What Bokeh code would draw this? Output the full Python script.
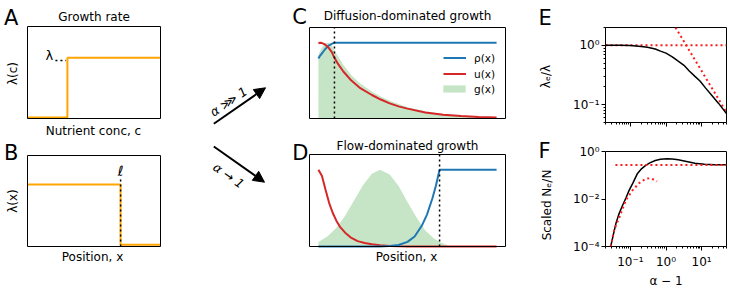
import math
from bokeh.plotting import figure
from bokeh.layouts import row, column
from bokeh.models import (Label, Arrow, NormalHead, Range1d, FixedTicker,
                          CustomJSTickFormatter, Legend, LegendItem, BoxAnnotation)
from bokeh.embed import file_html
from bokeh.resources import INLINE

FONT = "DejaVu Sans"
ORANGE = "#ffa500"
BLUE = "#1f77b4"
RED = "#d62728"
GREEN = "#2ca02c"
DOT_RED = "#ff1a1a"

# ---------------- data ----------------
# A: growth rate vs nutrient concentration (step)
nutrient_c = [0.0, 0.30, 0.30, 1.0]
growth_c = [0.01, 0.01, 0.66, 0.66]
a_xlim = (0.0, 1.0)
a_ylim = (0.0, 1.0)

# B: growth rate vs position (step down at ell)
position_b = [0.0, 0.70, 0.70, 1.0]
growth_b = [0.68, 0.68, 0.02, 0.02]
ell_b = 0.70
ell_top_b = 0.74

# C: diffusion-dominated growth
c_x = [0.0, 0.01, 0.02, 0.03, 0.04, 0.05, 0.06, 0.075, 0.09, 0.11, 0.14, 0.185,
       0.235, 0.30, 0.35, 0.40, 0.45, 0.50, 0.60, 0.70, 0.80, 0.90, 1.0]
c_rho = [0.79, 0.83, 0.86, 0.89, 0.92, 0.945, 0.965, 0.985, 1.0, 1.0, 1.0, 1.0,
         1.0, 1.0, 1.0, 1.0, 1.0, 1.0, 1.0, 1.0, 1.0, 1.0, 1.0]
c_u = [0.99, 1.0, 0.995, 0.985, 0.97, 0.95, 0.925, 0.875, 0.80, 0.72, 0.62, 0.50,
       0.40, 0.31, 0.25, 0.20, 0.16, 0.13, 0.08, 0.05, 0.033, 0.02, 0.012]
c_g = [0.84, 0.89, 0.94, 0.97, 0.99, 1.0, 1.0, 0.96, 0.90, 0.82, 0.71, 0.57,
       0.46, 0.355, 0.29, 0.235, 0.19, 0.15, 0.095, 0.06, 0.038, 0.024, 0.014]
ell_c = 0.09
cd_xlim = (-0.05, 1.05)
cd_ylim = (0.0, 1.2)

# D: flow-dominated growth
d_x = [0.0, 0.02, 0.04, 0.06, 0.08, 0.10, 0.12, 0.15, 0.18, 0.22, 0.26, 0.30,
       0.345, 0.40, 0.45, 0.50, 0.54, 0.58, 0.61, 0.64, 0.66, 0.67, 0.68, 0.70, 1.0]
d_rho = [0, 0, 0, 0, 0, 0, 0, 0, 0, 0, 0, 0,
         0.001, 0.005, 0.02, 0.06, 0.13, 0.27, 0.42, 0.63, 0.80, 0.90, 1.0, 1.0, 1.0]
d_u = [1.0, 0.92, 0.74, 0.57, 0.44, 0.34, 0.26, 0.18, 0.12, 0.07, 0.045, 0.028,
       0.015, 0.007, 0.003, 0.001, 0, 0, 0, 0, 0, 0, 0, 0, 0]
d_gx = [0.0, 0.05, 0.10, 0.15, 0.20, 0.25, 0.30, 0.345, 0.40, 0.45, 0.50, 0.55,
        0.60, 0.65, 0.69, 0.72, 0.74]
d_g = [0.06, 0.13, 0.24, 0.40, 0.60, 0.80, 0.95, 1.0, 0.94, 0.79, 0.58, 0.38,
       0.21, 0.10, 0.05, 0.02, 0.0]
ell_d = 0.68

# E: effective growth rate vs alpha - 1
e_x = [0.02, 0.05, 0.1, 0.2, 0.3, 0.5, 0.7, 1.0, 1.5, 2.2, 3.2, 4.5, 6.5, 9.0,
       13, 20, 30, 50]
e_y = [1.0, 1.0, 0.99, 0.96, 0.93, 0.87, 0.80, 0.74, 0.64, 0.54, 0.46, 0.37,
       0.30, 0.25, 0.19, 0.14, 0.105, 0.071]
e_flat_x = [0.02, 50]
e_flat_y = [1.0, 1.0]
e_asym_x = [1.85, 50]
e_asym_y = [2.0, 0.074]
ef_xlim = (0.02, 50)
e_ylim = (0.05, 2)
ef_xticks = [0.1, 1, 10]
ef_xminor = [0.02, 0.03, 0.04, 0.05, 0.06, 0.07, 0.08, 0.09,
             0.2, 0.3, 0.4, 0.5, 0.6, 0.7, 0.8, 0.9,
             2, 3, 4, 5, 6, 7, 8, 9, 20, 30, 40, 50]
e_yticks = [0.1, 1]
e_yminor = [0.05, 0.06, 0.07, 0.08, 0.09, 0.2, 0.3, 0.4, 0.5, 0.6, 0.7, 0.8, 0.9, 2]

# F: scaled effective population size vs alpha - 1
f_x = [0.028, 0.033, 0.039, 0.047, 0.06, 0.075, 0.092, 0.12, 0.156, 0.2, 0.27,
       0.35, 0.5, 0.7, 1.07, 1.5, 2.2, 3.5, 6.5, 12, 23, 50]
f_y = [1e-4, 3e-4, 9e-4, 2.2e-3, 5.3e-3, 1.1e-2, 2.3e-2, 5.0e-2, 0.115, 0.18,
       0.26, 0.33, 0.42, 0.47, 0.49, 0.48, 0.45, 0.39, 0.32, 0.29, 0.28, 0.275]
f_small_x = [0.028, 0.035, 0.049, 0.074, 0.114, 0.174, 0.27, 0.37, 0.56]
f_small_y = [1e-4, 5e-4, 1.7e-3, 8.7e-3, 0.023, 0.046, 0.071, 0.075, 0.056]
f_flat_x = [0.038, 50]
f_flat_y = [0.27, 0.27]
f_ylim = (1e-4, 1)
f_yticks = [1e-4, 1e-2, 1.0]

SUP_CODE = """
const sup = {'-': '\u207b', '0': '\u2070', '1': '\u00b9', '2': '\u00b2', '3': '\u00b3',
             '4': '\u2074', '5': '\u2075', '6': '\u2076', '7': '\u2077', '8': '\u2078', '9': '\u2079'};
const e = Math.round(Math.log10(tick));
return '10' + String(e).split('').map(c => sup[c]).join('');
"""


def frame_fig(width, height, frame, xlim, ylim, box=True):
    """Figure whose plotting frame is the whole canvas; the panel box is drawn
    at the axis limits (xlim, ylim), which land on the pixel box `frame`."""
    left, top, right, bottom = frame
    sx = (xlim[1] - xlim[0]) / (right - left)
    sy = (ylim[1] - ylim[0]) / (bottom - top)
    xr = Range1d(xlim[0] - left * sx, xlim[1] + (width - right) * sx)
    yr = Range1d(ylim[0] - (height - bottom) * sy, ylim[1] + top * sy)
    p = figure(width=width, height=height, x_range=xr, y_range=yr, title=None,
               output_backend="svg", toolbar_location=None,
               x_axis_location=None, y_axis_location=None,
               min_border=0, min_border_left=0, min_border_right=0,
               min_border_top=0, min_border_bottom=0)
    p.xgrid.visible = False
    p.ygrid.visible = False
    p.outline_line_color = None
    p.background_fill_color = "white"
    p.border_fill_color = "white"
    if box:
        p.add_layout(BoxAnnotation(left=xlim[0], right=xlim[1], bottom=ylim[0],
                                   top=ylim[1], fill_color=None, fill_alpha=0,
                                   line_color="black", line_width=1, line_alpha=1))
    return p


def log_fig(width, height, left, right, top, bottom, xlim, ylim):
    p = figure(width=width, height=height, x_range=Range1d(*xlim),
               y_range=Range1d(*ylim), title=None, output_backend="svg",
               toolbar_location=None, x_axis_type="log", y_axis_type="log",
               min_border_left=left, min_border_right=right,
               min_border_top=top, min_border_bottom=bottom)
    p.xgrid.visible = False
    p.ygrid.visible = False
    p.outline_line_color = "black"
    p.outline_line_width = 1
    p.outline_line_alpha = 1
    for ax in (p.xaxis[0], p.yaxis[0]):
        ax.axis_line_color = None
        ax.major_tick_line_color = "black"
        ax.minor_tick_line_color = "black"
        ax.major_tick_out = 4
        ax.major_tick_in = 0
        ax.minor_tick_out = 2
        ax.minor_tick_in = 0
        ax.major_label_text_font = FONT
        ax.major_label_text_font_size = "12px"
        ax.major_label_text_color = "black"
        ax.formatter = CustomJSTickFormatter(code=SUP_CODE)
        ax.axis_label_text_font = FONT
        ax.axis_label_text_font_size = "12px"
        ax.axis_label_text_font_style = "normal"
        ax.axis_label_text_color = "black"
    p.yaxis[0].major_label_standoff = 2
    return p


def txt(p, s, x, y, size="12px", align="left", baseline="alphabetic",
        units="screen", angle=0.0, style="normal"):
    p.add_layout(Label(x=x, y=y, x_units=units, y_units=units, text=s,
                       text_font=FONT, text_font_size=size, text_align=align,
                       text_baseline=baseline, angle=angle, text_font_style=style,
                       text_color="black"))


def legend_row(p, label, renderer, x, y, glyph_width=23, standoff=8, glyph_height=15):
    p.add_layout(Legend(items=[LegendItem(label=label, renderers=[renderer])],
                        location=(x, y), orientation="vertical",
                        border_line_color=None, background_fill_alpha=0,
                        padding=0, margin=0, spacing=0, label_standoff=standoff,
                        glyph_width=glyph_width, glyph_height=glyph_height,
                        label_height=15, label_text_font=FONT,
                        label_text_font_size="10.5px", label_text_color="black"))


VERT = math.pi / 2

# ---------------- panel A ----------------
pA = frame_fig(175, 139, (27, 26, 160, 118), a_xlim, a_ylim)
pA.line(nutrient_c, growth_c, line_color=ORANGE, line_width=2)
step_c = nutrient_c[1]
lam = growth_c[-1]
pA.line([step_c - 0.09, step_c - 0.01], [lam - 0.03, lam - 0.03],
        line_color="black", line_width=1.5, line_dash="2 3")
txt(pA, "λ", step_c - 0.135, lam + 0.02, size="13px", align="center",
    baseline="middle", units="data")
txt(pA, "A", 3.5, 122.0, size="21px")
txt(pA, "Growth rate", 93.5, 122.3, align="center")
txt(pA, "Nutrient conc, c", 93.0, 8.8, align="center")
txt(pA, "λ(c)", 12.5, 66.0, align="center", baseline="middle", angle=VERT)

# ---------------- panel B ----------------
pB = frame_fig(175, 152, (27, 16, 160, 107), a_xlim, a_ylim)
pB.line(position_b, growth_b, line_color=ORANGE, line_width=2)
pB.line([ell_b, ell_b], [0, ell_top_b], line_color="black", line_width=1.5,
        line_dash="2 3")
txt(pB, "ℓ", ell_b, ell_top_b + 0.095, size="14px", align="center",
    baseline="middle", units="data")
txt(pB, "B", 3.5, 139.0, size="21px")
txt(pB, "Position, x", 92.0, 34.3, align="center")
txt(pB, "λ(x)", 12.5, 90.5, align="center", baseline="middle", angle=VERT)

# ---------------- arrows ----------------
pArr = frame_fig(112, 291, (0, 0, 112, 291), (0, 112), (0, 291), box=False)
pArr.add_layout(Arrow(end=NormalHead(size=11, fill_color="black", line_color="black"),
                      x_start=38.3, y_start=167.7, x_end=90.0, y_end=203.7,
                      line_width=2, line_color="black"))
pArr.add_layout(Arrow(end=NormalHead(size=11, fill_color="black", line_color="black"),
                      x_start=38.3, y_start=145.0, x_end=89.0, y_end=109.3,
                      line_width=2, line_color="black"))
txt(pArr, "α ⋙ 1", 53.0, 190.0, size="12.5px", align="center", baseline="middle",
    units="data", angle=0.60, style="italic")
txt(pArr, "α → 1", 53.3, 116.0, size="12.5px", align="center", baseline="middle",
    units="data", angle=-0.61, style="italic")

# ---------------- panel C ----------------
pC = frame_fig(233, 139, (22, 27, 218, 118), cd_xlim, cd_ylim)
rg = pC.varea(x=c_x, y1=[0] * len(c_x), y2=c_g, fill_color=GREEN, fill_alpha=0.27)
rr = pC.line(c_x, c_rho, line_color=BLUE, line_width=2)
ru = pC.line(c_x, c_u, line_color=RED, line_width=2)
pC.line([ell_c, ell_c], list(cd_ylim), line_color="black", line_width=1.5,
        line_dash="2 3")
legend_row(pC, "ρ(x)", rr, 156, 74)
legend_row(pC, "u(x)", ru, 156, 58)
legend_row(pC, "g(x)", rg, 153, 43, glyph_width=28, standoff=6, glyph_height=9)
txt(pC, "C", 4.7, 123.0, size="21px")
txt(pC, "Diffusion-dominated growth", 120.0, 123.7, align="center")

# ---------------- panel D ----------------
pD = frame_fig(233, 152, (22, 15, 218, 107), cd_xlim, cd_ylim)
pD.varea(x=d_gx, y1=[0] * len(d_gx), y2=d_g, fill_color=GREEN, fill_alpha=0.27)
pD.line(d_x, d_u, line_color=RED, line_width=2)
pD.line(d_x, d_rho, line_color=BLUE, line_width=2)
pD.line([ell_d, ell_d], list(cd_ylim), line_color="black", line_width=1.5,
        line_dash="2 3")
txt(pD, "D", 4.7, 139.0, size="21px")
txt(pD, "Flow-dominated growth", 120.0, 146.0, align="center")
txt(pD, "Position, x", 119.0, 34.3, align="center")

# ---------------- strip with letters E/F and their y labels ----------------
pS = frame_fig(45, 291, (0, 0, 45, 291), (0, 45), (0, 291), box=False)
txt(pS, "E", 18.0, 274.0, size="21px")
txt(pS, "F", 18.0, 141.0, size="21px")
txt(pS, "λₑ/λ", 25.0, 215.0, align="center", baseline="middle", angle=VERT)
txt(pS, "Scaled Nₑ/N", 26.0, 86.5, align="center", baseline="middle", angle=VERT)

# ---------------- panel E ----------------
pE = log_fig(165, 139, 40, 4, 27, 17, ef_xlim, e_ylim)
pE.xaxis[0].ticker = FixedTicker(ticks=ef_xticks, minor_ticks=ef_xminor)
pE.yaxis[0].ticker = FixedTicker(ticks=e_yticks, minor_ticks=e_yminor)
pE.xaxis[0].formatter = CustomJSTickFormatter(code="return '';")
pE.xaxis[0].major_label_text_font_size = "1px"
pE.xaxis[0].major_label_standoff = 0
pE.line(e_flat_x, e_flat_y, line_color=DOT_RED, line_width=2, line_dash="2 3")
pE.line(e_asym_x, e_asym_y, line_color=DOT_RED, line_width=2, line_dash="2 3")
pE.line(e_x, e_y, line_color="black", line_width=1.5)

# ---------------- panel F ----------------
pF = log_fig(165, 152, 40, 4, 12, 45, ef_xlim, f_ylim)
pF.xaxis[0].ticker = FixedTicker(ticks=ef_xticks, minor_ticks=ef_xminor)
pF.yaxis[0].ticker = FixedTicker(ticks=f_yticks)
pF.xaxis[0].major_label_standoff = 4
pF.xaxis[0].axis_label = "α − 1"
pF.xaxis[0].axis_label_standoff = 2
pF.line(f_x, f_y, line_color="black", line_width=1.5)
pF.line(f_flat_x, f_flat_y, line_color=DOT_RED, line_width=2, line_dash="2 3")
pF.line(f_small_x, f_small_y, line_color=DOT_RED, line_width=2, line_dash="2 3")

layout = row(column(pA, pB), pArr, column(pC, pD), pS, column(pE, pF))

open("out.html", "w").write(file_html(layout, INLINE))
